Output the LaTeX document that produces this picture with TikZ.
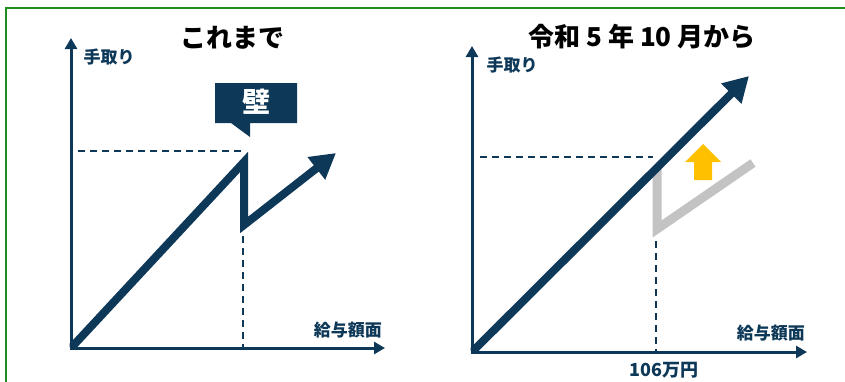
\documentclass[tikz,border=0pt]{standalone}
\usepackage{fontspec}
\setmainfont{Noto Sans CJK JP}
\usetikzlibrary{arrows.meta}
\definecolor{navy}{HTML}{0E3858}
\definecolor{frame}{HTML}{1E8C1E}
\definecolor{lgray}{HTML}{C3C3C3}
\definecolor{gold}{HTML}{FFC000}
\tikzset{
  axisline/.style={navy, line width=3pt, line join=miter, {Triangle[length=11pt,width=12pt]}-{Triangle[length=11pt,width=12pt]}},
  bigline/.style={navy, line width=8pt, line join=miter, -{Triangle[length=25pt,width=27pt]}},
  grayline/.style={lgray, line width=9pt, line join=miter},
  dashline/.style={navy, line width=1.8pt, dash pattern=on 7pt off 5pt},
  axislabel/.style={navy, font=\fontsize{17}{17}\selectfont\bfseries, inner sep=0pt},
  titlelabel/.style={black, font=\fontsize{26}{26}\selectfont\bfseries, inner sep=0pt}
}
\begin{document}
\begin{tikzpicture}[x=1pt,y=-1pt]
\useasboundingbox (0,0) rectangle (845,381);
\clip (0,0) rectangle (845,381);
\fill[white] (0,0) rectangle (845,381);
\draw[frame, line width=2pt] (5.5,7.5) rectangle (860,400);

% ---------- left chart ----------
\coordinate (O1) at (71,348);
\coordinate (Y1) at (71,38);
\coordinate (X1) at (385,348);
\coordinate (P1) at (244,162);
\coordinate (Q1) at (244,225);
\coordinate (T1) at (336,153);
\coordinate (H1a) at (78,151);
\coordinate (H1b) at (241,151);
\coordinate (V1a) at (243,236);
\coordinate (V1b) at (243,348);

\draw[dashline] (H1a) -- (H1b);
\draw[dashline] (V1a) -- (V1b);
\begin{scope}
\clip (69.5,0) rectangle (845,349.5);
\draw[bigline] (O1) -- (P1) -- (Q1) -- (T1);
\end{scope}
\draw[axisline] (Y1) -- (O1) -- (X1);

\fill[navy] (215,83) -- (297,83) -- (297,123) -- (250,123) -- (250,137) -- (231,123) -- (215,123) -- cycle;
\node[white, font=\fontsize{28}{28}\selectfont\bfseries, inner sep=0pt] (kabe) at (256,102) {壁};

\node[titlelabel] (title1) at (232,38) {これまで};
\node[axislabel] (yl1) at (109,57) {手取り};
\node[axislabel, anchor=east] (xl1) at (382,330) {給与額面};

% ---------- right chart ----------
\coordinate (O2) at (472,352);
\coordinate (Y2) at (472,46);
\coordinate (X2) at (807,352);
\coordinate (T2) at (749,76);
\coordinate (G0) at (657,168);
\coordinate (G1) at (657,229);
\coordinate (G2) at (753,163);
\coordinate (H2a) at (480,157);
\coordinate (H2b) at (653,157);
\coordinate (V2a) at (656,241);
\coordinate (V2b) at (656,352);

\draw[dashline] (H2a) -- (H2b);
\draw[dashline] (V2a) -- (V2b);
\draw[grayline] (G0) -- (G1) -- (G2);
\begin{scope}
\clip (470.5,0) rectangle (845,353.5);
\draw[bigline] (O2) -- (T2);
\end{scope}
\draw[axisline] (Y2) -- (O2) -- (X2);

\fill[gold] (703,144) -- (721,162) -- (712,162) -- (712,180) -- (694,180) -- (694,162) -- (685,162) -- cycle;

\node[titlelabel] (title2) at (642,37) {令和 5 年 10 月から};
\node[axislabel] (yl2) at (512,65) {手取り};
\node[axislabel, anchor=east] (xl2) at (805,333) {給与額面};
\node[axislabel, font=\fontsize{18}{18}\selectfont\bfseries] (xv2) at (664,370) {106万円};
\end{tikzpicture}
\end{document}
